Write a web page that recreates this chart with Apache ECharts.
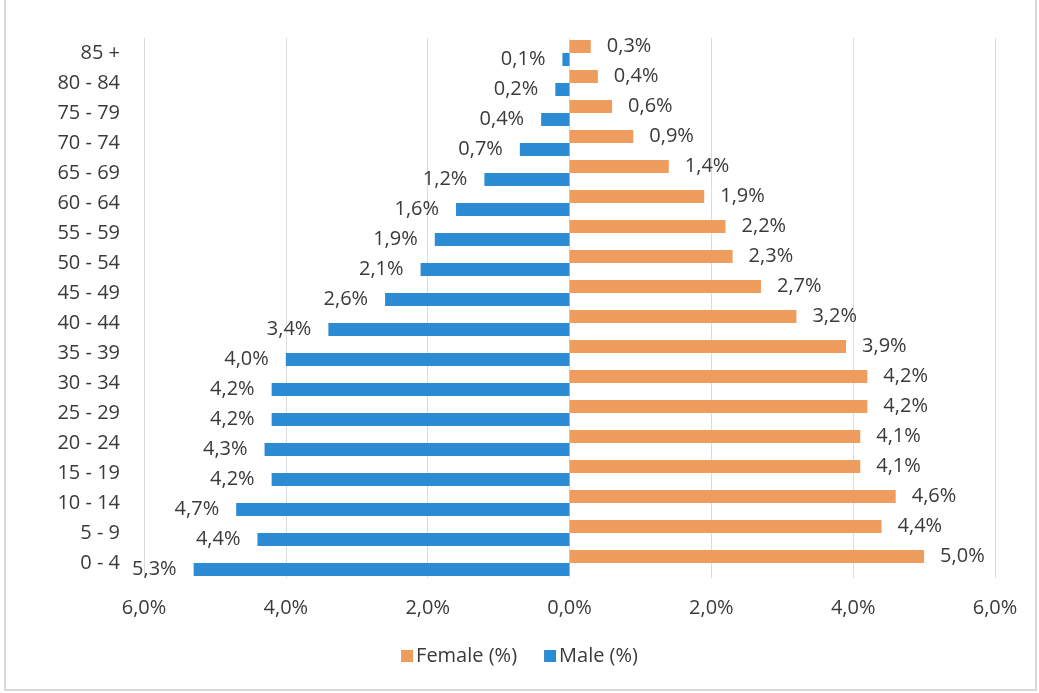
<!DOCTYPE html>
<html>
<head>
<meta charset="utf-8">
<script src="https://cdn.jsdelivr.net/npm/echarts@6/dist/echarts.min.js"></script>
<style>
html,body{margin:0;padding:0;background:#fff;}
#chart{width:1039px;height:693px;}
</style>
</head>
<body>
<div id="chart"></div>
<script>
const categories = ['0 - 4','5 - 9','10 - 14','15 - 19','20 - 24','25 - 29','30 - 34','35 - 39','40 - 44','45 - 49','50 - 54','55 - 59','60 - 64','65 - 69','70 - 74','75 - 79','80 - 84','85 +'];
const maleValues = [5.3,4.4,4.7,4.2,4.3,4.2,4.2,4.0,3.4,2.6,2.1,1.9,1.6,1.2,0.7,0.4,0.2,0.1];
const femaleValues = [5.0,4.4,4.6,4.1,4.1,4.2,4.2,3.9,3.2,2.7,2.3,2.2,1.9,1.4,0.9,0.6,0.4,0.3];
const xTicks = [-6,-4,-2,0,2,4,6];

const FONT = 'Open Sans';
const TXT = '#3a3a3a';
const fmt = v => Math.abs(v).toFixed(1).replace('.', ',') + '%';

const chart = echarts.init(document.getElementById('chart'));
chart.setOption({
  animation: false,
  backgroundColor: '#fff',
  textStyle: {fontFamily: FONT},
  graphic: [{
    type: 'rect', shape: {x: 5, y: -5, width: 1031, height: 695},
    style: {fill: 'none', stroke: '#d8d8d8', lineWidth: 2}, silent: true
  }],
  legend: {
    data: ['Female (%)', 'Male (%)'],
    bottom: 22, left: 'center',
    itemWidth: 12, itemHeight: 12, itemGap: 27,
    icon: 'rect',
    textStyle: {fontFamily: FONT, fontSize: 20, color: TXT, padding: [0,0,0,-2]}
  },
  grid: {left: 144, right: 44, top: 38, bottom: 115, containLabel: false},
  xAxis: {
    type: 'value', min: xTicks[0], max: xTicks[xTicks.length-1], interval: 2,
    axisLine: {show: false}, axisTick: {show: false},
    splitLine: {show: true, lineStyle: {color: '#dcdcdc', width: 1}},
    axisLabel: {formatter: fmt, fontFamily: FONT, fontSize: 20, color: TXT, margin: 20}
  },
  yAxis: {
    type: 'category', data: categories,
    axisLine: {show: false}, axisTick: {show: false},
    axisLabel: {fontFamily: FONT, fontSize: 20, color: TXT, margin: 24}
  },
  series: [
    {
      name: 'Female (%)', type: 'bar', barWidth: 13, barGap: '0%',
      data: femaleValues,
      itemStyle: {color: '#ee9d5e'},
      label: {show: true, position: 'right', distance: 16, formatter: p => fmt(p.value),
        fontFamily: FONT, fontSize: 20, color: TXT}
    },
    {
      name: 'Male (%)', type: 'bar', barWidth: 13, barGap: '0%',
      data: maleValues.map(v => -v),
      itemStyle: {color: '#2b8cd3'},
      label: {show: true, position: 'left', distance: 17, formatter: p => fmt(p.value),
        fontFamily: FONT, fontSize: 20, color: TXT}
    }
  ]
});
</script>
</body>
</html>
